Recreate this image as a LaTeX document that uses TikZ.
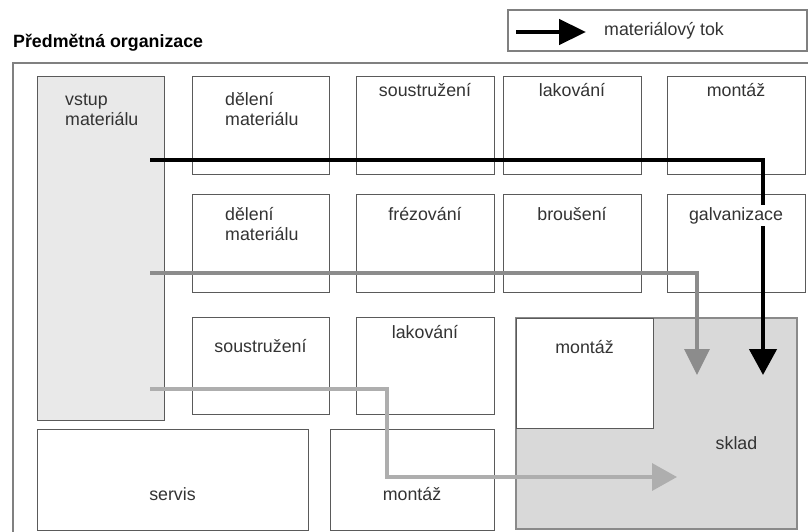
\documentclass[tikz,border=0pt]{standalone}
\usepackage{fontspec}
\setmainfont{Liberation Sans}
\usetikzlibrary{arrows.meta}
\definecolor{boxc}{HTML}{5A5A5A}
\definecolor{framec}{HTML}{808080}
\definecolor{txtc}{HTML}{333333}
\definecolor{vstupfill}{HTML}{E9E9E9}
\definecolor{skladfill}{HTML}{D9D9D9}
\definecolor{skladline}{HTML}{8A8A8A}
\definecolor{flowgA}{HTML}{8C8C8C}
\definecolor{flowgB}{HTML}{AEAEAE}
\newcommand{\mybox}[6]{\node[#6, anchor=north west, minimum width=#4-#2, minimum height=#5-#3] (#1) at (#2,#3) {};}
\tikzset{
  cell/.style={draw=boxc, line width=1pt, fill=white, rectangle, inner sep=0pt, outer sep=0pt},
  vstupbox/.style={cell, fill=vstupfill},
  skladbox/.style={draw=skladline, line width=2pt, fill=skladfill, rectangle, inner sep=0pt, outer sep=0pt},
  framebox/.style={draw=framec, line width=1.5pt, rectangle, inner sep=0pt, outer sep=0pt},
  lbl/.style={text=txtc, inner sep=0pt, font=\fontsize{17.8}{20}\selectfont},
  titlelbl/.style={text=black, inner sep=0pt, font=\fontsize{17.8}{20}\selectfont\bfseries},
  flowk/.style={draw=black, line width=4.5pt, -{Triangle[width=27pt,length=26pt]}},
  flowgA/.style={draw=flowgA, line width=3.5pt, -{Triangle[width=25pt,length=26pt]}},
  flowgB/.style={draw=flowgB, line width=3.5pt, -{Triangle[width=27pt,length=25pt]}},
}
\begin{document}
\begin{tikzpicture}[x=1pt,y=-1pt]
\useasboundingbox (0,0) rectangle (808,532);
\clip (0,0) rectangle (808,532);

% title and legend
\node[titlelbl, anchor=base west] (title) at (13,48) {Předmětná organizace};
\mybox{legend}{508}{10}{807}{51}{framebox}
\coordinate (lgA) at (516,32);
\coordinate (lgB) at (586,32);
\draw[flowk, -{Triangle[width=25pt,length=27pt]}] (lgA) -- (lgB);
\node[lbl, anchor=base west] (legtxt) at (604,36) {materiálový tok};

% outer frame
\mybox{frame}{13}{63}{830}{560}{framebox}

% column 1
\mybox{vstup}{37}{77}{164}{420}{vstupbox}
% row 1
\mybox{d1}{192}{77}{329}{174}{cell}
\mybox{s1}{356}{77}{494}{174}{cell}
\mybox{l1}{503}{77}{641}{174}{cell}
\mybox{m1}{667}{77}{805}{174}{cell}
% row 2
\mybox{d2}{192}{194}{329}{292}{cell}
\mybox{f2}{356}{194}{494}{292}{cell}
\mybox{b2}{503}{194}{641}{292}{cell}
\mybox{g2}{667}{194}{805}{292}{cell}
% row 3
\mybox{s3}{192}{317}{329}{414}{cell}
\mybox{l3}{356}{317}{494}{414}{cell}
\mybox{sklad}{516}{318}{797}{529}{skladbox}
\mybox{m3}{516}{318}{653}{428}{cell}
% bottom row
\mybox{servis}{37}{429}{308}{530}{cell}
\mybox{m4}{330}{429}{494}{530}{cell}

% flows
\coordinate (kA) at (150,160);
\coordinate (kB) at (763,375);
\coordinate (gA1) at (150,273);
\coordinate (gA2) at (697,375);
\coordinate (gB1) at (150,389);
\coordinate (gB2) at (387,477);
\coordinate (gB3) at (677,477);
\draw[flowk] (kA) -| (kB);
\draw[flowgA] (gA1) -| (gA2);
\draw[flowgB] (gB1) -| (gB2) -- (gB3);

% labels (base anchor of a multi-line node = last line)
\node[lbl, anchor=base west, align=left] (tvstup) at (65,125) {vstup\\materiálu};
\node[lbl, anchor=base west, align=left] (td1) at (225,125) {dělení\\materiálu};
\node[lbl, anchor=base] (ts1) at (425,97) {soustružení};
\node[lbl, anchor=base] (tl1) at (572,97) {lakování};
\node[lbl, anchor=base] (tm1) at (736,97) {montáž};
\node[lbl, anchor=base west, align=left] (td2) at (225,240) {dělení\\materiálu};
\node[lbl, anchor=base] (tf2) at (425,220) {frézování};
\node[lbl, anchor=base] (tb2) at (572,220) {broušení};
\node[lbl, anchor=base, fill=white, inner sep=2.5pt] (tg2) at (736,220) {galvanizace};
\node[lbl, anchor=base] (ts3) at (260.5,352) {soustružení};
\node[lbl, anchor=base] (tl3) at (425,338) {lakování};
\node[lbl, anchor=base] (tm3) at (584.5,353) {montáž};
\node[lbl, anchor=base] (tsklad) at (736.5,449) {sklad};
\node[lbl, anchor=base] (tservis) at (172.5,500) {servis};
\node[lbl, anchor=base] (tm4) at (412,500) {montáž};
\end{tikzpicture}
\end{document}
